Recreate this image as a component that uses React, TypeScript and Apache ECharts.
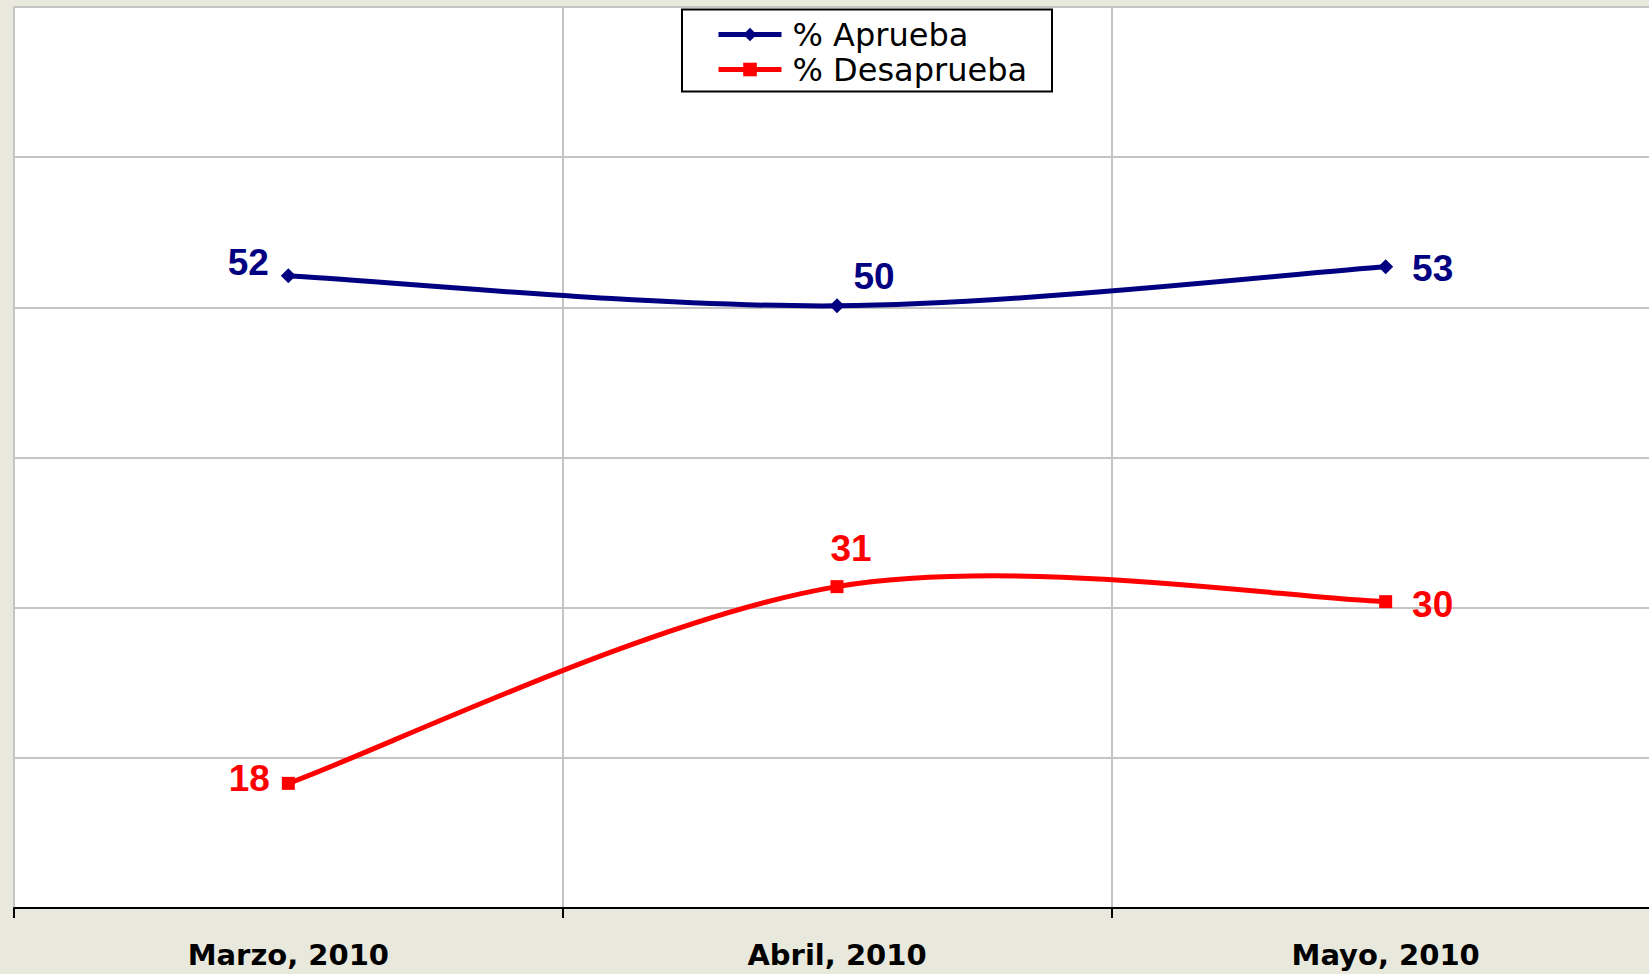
import React, { useEffect, useRef } from 'react';
import * as echarts from 'echarts';

const categories = ['Marzo, 2010', 'Abril, 2010', 'Mayo, 2010'];
const seriesNames = ['% Aprueba', '% Desaprueba'];
const aprueba = [52.1, 50.1, 52.7];
const desaprueba = [18.3, 31.4, 30.4];

// label centre offsets from each point (px)
const apruebaLabelOffsets = [[-40, -13], [37, -29], [47, 2]];
const desapruebaLabelOffsets = [[-39, -5], [14, -38], [47, 3]];

// Excel-style smoothed segment (Catmull-Rom, tension 1/6) drawn through the axis scales
function makeCurveRenderer(values: number[], color: string) {
  return (params: any, api: any) => {
    const i = params.dataIndex;
    const n = values.length;
    if (i >= n - 1) return null;
    const pts = values.map((v, k) => api.coord([k, v]));
    const p0 = pts[Math.max(i - 1, 0)];
    const p1 = pts[i];
    const p2 = pts[i + 1];
    const p3 = pts[Math.min(i + 2, n - 1)];
    return {
      type: 'bezierCurve',
      shape: {
        x1: p1[0],
        y1: p1[1],
        x2: p2[0],
        y2: p2[1],
        cpx1: p1[0] + (p2[0] - p0[0]) / 6,
        cpy1: p1[1] + (p2[1] - p0[1]) / 6,
        cpx2: p2[0] - (p3[0] - p1[0]) / 6,
        cpy2: p2[1] - (p3[1] - p1[1]) / 6,
      },
      style: { stroke: color, lineWidth: 5, fill: 'none', lineCap: 'round' },
    };
  };
}

export default function App() {
  const ref = useRef<HTMLDivElement>(null);
  useEffect(() => {
    const chart = echarts.init(ref.current!, null, { renderer: 'svg' });
    const labelBase = {
      show: true,
      position: 'inside',
      align: 'center',
      verticalAlign: 'middle',
      fontFamily: 'Liberation Sans',
      fontWeight: 'bold',
      fontSize: 37,
      formatter: (p: any) => String(Math.round(p.value)),
    };
    const blue = '#000080';
    const red = '#FF0000';
    const option: any = {
      animation: false,
      backgroundColor: '#E9E8DD',
      grid: {
        left: 14,
        right: 0,
        top: 7,
        bottom: 66,
        show: true,
        backgroundColor: '#ffffff',
        borderWidth: 0,
      },
      legend: {
        orient: 'vertical',
        left: 716,
        top: 17,
        padding: 0,
        itemGap: 0,
        itemWidth: 63,
        itemHeight: 17,
        lineStyle: { width: 5, opacity: 1 },
        textStyle: {
          fontFamily: 'DejaVu Sans',
          fontSize: 32,
          color: '#000',
          lineHeight: 35,
          padding: [0, 0, 0, 6],
        },
        data: seriesNames,
      },
      graphic: [
        {
          type: 'rect',
          z: 3,
          shape: { x: 682, y: 9.5, width: 370, height: 82 },
          style: { fill: '#ffffff', stroke: '#000', lineWidth: 2 },
        },
      ],
      xAxis: {
        type: 'category',
        data: categories,
        boundaryGap: true,
        axisLine: { show: true, lineStyle: { color: '#000', width: 2 } },
        axisTick: { show: true, length: 10, lineStyle: { color: '#000', width: 2 } },
        axisLabel: {
          fontFamily: 'DejaVu Sans',
          fontWeight: 'bold',
          fontSize: 29,
          color: '#000',
          margin: 32,
        },
        splitLine: { show: true, lineStyle: { color: '#c4c4c4', width: 2 } },
      },
      yAxis: {
        type: 'value',
        min: 10,
        max: 70,
        interval: 10,
        axisLine: { show: true, lineStyle: { color: '#c4c4c4', width: 2 } },
        axisTick: { show: false },
        axisLabel: { show: false },
        splitLine: { show: true, lineStyle: { color: '#c4c4c4', width: 2 } },
      },
      series: [
        {
          name: 'curve-aprueba',
          type: 'custom',
          renderItem: makeCurveRenderer(aprueba, blue),
          data: aprueba.map((v, k) => [k, v]),
          encode: { x: 0, y: 1 },
          z: 4,
          silent: true,
        },
        {
          name: 'curve-desaprueba',
          type: 'custom',
          renderItem: makeCurveRenderer(desaprueba, red),
          data: desaprueba.map((v, k) => [k, v]),
          encode: { x: 0, y: 1 },
          z: 4,
          silent: true,
        },
        {
          name: seriesNames[0],
          type: 'line',
          symbol: 'diamond',
          symbolSize: 15,
          color: blue,
          lineStyle: { color: blue, width: 5, opacity: 0 },
          itemStyle: { color: blue },
          label: { ...labelBase, color: blue },
          data: aprueba.map((v, i) => ({ value: v, label: { offset: apruebaLabelOffsets[i] } })),
          z: 5,
        },
        {
          name: seriesNames[1],
          type: 'line',
          symbol: 'rect',
          symbolSize: 13,
          color: red,
          lineStyle: { color: red, width: 5, opacity: 0 },
          itemStyle: { color: red },
          label: { ...labelBase, color: red },
          data: desaprueba.map((v, i) => ({ value: v, label: { offset: desapruebaLabelOffsets[i] } })),
          z: 5,
        },
      ],
    };
    chart.setOption(option);
    return () => chart.dispose();
  }, []);
  return (
    <div
      style={{
        position: 'absolute',
        left: 0,
        top: 0,
        width: 1649,
        height: 974,
        overflow: 'hidden',
      }}
    >
      <div ref={ref} style={{ width: 1660, height: 974 }} />
    </div>
  );
}
